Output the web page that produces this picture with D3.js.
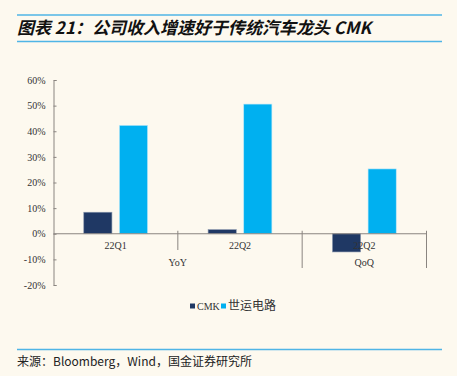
<!DOCTYPE html>
<html><head><meta charset="utf-8">
<script src="https://cdn.jsdelivr.net/npm/d3@7/dist/d3.min.js"></script>
<style>
html,body{margin:0;padding:0;background:#fdf9ef;}
svg{display:block;}
</style></head>
<body>
<script>
const categories = ["22Q1","22Q2","22Q2"];
const groups = [{name:"YoY", span:[0,1]},{name:"QoQ", span:[2,2]}];
const seriesNames = ["CMK","世运电路"];
const cmkValues = [8.4, 1.6, -7.1];
const shiyunValues = [42.3, 50.6, 25.3];
const yTicks = [-20,-10,0,10,20,30,40,50,60];
const colors = ["#1f3864","#00b0f0"];

const W=457,H=376;
const svg=d3.select("body").append("svg").attr("width",W).attr("height",H);
svg.append("rect").attr("width",W).attr("height",H).attr("fill","#fdf9ef");

// header
svg.append("line").attr("x1",17).attr("x2",442).attr("y1",15).attr("y2",15).attr("stroke","#4fb5e6").attr("stroke-width",1.5);
svg.append("text").attr("x",17).attr("y",34).text("图表 21：公司收入增速好于传统汽车龙头 CMK")
  .attr("font-family","'Noto Sans CJK SC', 'Liberation Sans', sans-serif").attr("font-size",17).attr("font-weight","bold").attr("font-style","italic").attr("fill","#111");
svg.append("line").attr("x1",17).attr("x2",442).attr("y1",41.5).attr("y2",41.5).attr("stroke","#4fb5e6").attr("stroke-width",1.5);

// footer
svg.append("line").attr("x1",17).attr("x2",442).attr("y1",349.5).attr("y2",349.5).attr("stroke","#4fb5e6").attr("stroke-width",1.5);
svg.append("text").attr("x",17).attr("y",366).text("来源：Bloomberg，Wind，国金证券研究所")
  .attr("font-family","'Noto Sans CJK SC', 'Liberation Sans', sans-serif").attr("font-size",12).attr("fill","#222");

const x0=53.5, x1=426.5;
const y=d3.scaleLinear().domain([-20,60]).range([285,80]);
const xb=d3.scaleBand().domain(d3.range(categories.length)).range([x0,x1]).paddingInner(0).paddingOuter(0);
const xs=d3.scaleBand().domain([0,1]).range([0,xb.bandwidth()]).paddingInner(0.21).paddingOuter(0.85);

const serif="'Liberation Serif','Noto Sans CJK SC',serif";
const axisColor="#8a8580";

// y axis
const yAxis=d3.axisLeft(y).tickValues(yTicks).tickSize(-3).tickPadding(8).tickFormat(d=>d+"%");
const ga=svg.append("g").attr("transform",`translate(${x0},0)`).call(yAxis);
ga.select(".domain").attr("stroke",axisColor);
ga.selectAll(".tick line").attr("stroke",axisColor);
ga.selectAll(".tick text").attr("font-family",serif).attr("font-size",10).attr("fill","#333");

// bars
const data=categories.map((c,i)=>({i, vals:[cmkValues[i],shiyunValues[i]]}));
const g=svg.append("g");
data.forEach(d=>{
  d.vals.forEach((v,s)=>{
    g.append("rect")
      .attr("x",xb(d.i)+xs(s)).attr("width",xs.bandwidth())
      .attr("y",y(Math.max(0,v))).attr("height",Math.abs(y(v)-y(0)))
      .attr("fill",colors[s]).attr("stroke",s===0?"#8896ad":"#b9e6f8").attr("stroke-width",0.6);
  });
});

// x axis
svg.append("line").attr("x1",x0).attr("x2",x1).attr("y1",y(0)).attr("y2",y(0)).attr("stroke",axisColor).attr("stroke-width",1);
categories.forEach((c,i)=>{
  svg.append("text").attr("x",xb(i)+xb.bandwidth()/2).attr("y",y(0)+15).attr("text-anchor","middle")
    .text(c).attr("font-family",serif).attr("font-size",10).attr("fill","#333");
});
// separators
const seps=[{x:xb(1),y2:250},{x:xb(2),y2:268},{x:x1,y2:268}];
seps.forEach(s=>svg.append("line").attr("x1",s.x).attr("x2",s.x).attr("y1",y(0)-3).attr("y2",s.y2).attr("stroke",axisColor));
groups.forEach(gr=>{
  const a=xb(gr.span[0]), b=xb(gr.span[1])+xb.bandwidth();
  svg.append("text").attr("x",(a+b)/2).attr("y",266).attr("text-anchor","middle")
    .text(gr.name).attr("font-family",serif).attr("font-size",10).attr("fill","#333");
});

// legend
const leg=[{x:190,tx:197},{x:221,tx:228}];
seriesNames.forEach((n,i)=>{
  svg.append("rect").attr("x",leg[i].x).attr("y",303.5).attr("width",5).attr("height",5).attr("fill",colors[i]);
  svg.append("text").attr("x",leg[i].tx).attr("y",310).text(n)
    .attr("font-family",serif).attr("font-size",i===0?10:12).attr("fill","#333");
});
</script>
</body></html>
